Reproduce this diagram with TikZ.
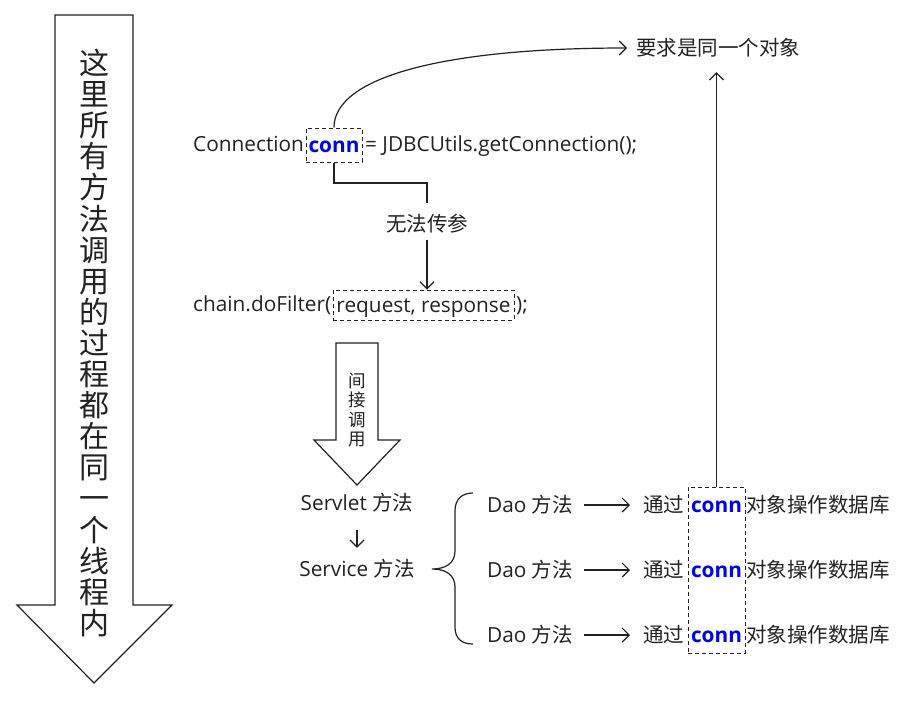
\documentclass[tikz,border=0pt]{standalone}
\usepackage{fontspec}
\setmainfont{Open Sans}
\newfontfamily\cjk{Noto Sans CJK SC}
\newcommand\zh{\cjk\fontsize{20.5}{24}\selectfont}
\usetikzlibrary{arrows.meta}
\definecolor{ink}{HTML}{222222}
\definecolor{connblue}{HTML}{0000FF}
\tikzset{
  txt/.style={inner sep=0pt, font=\fontsize{20.8}{24}\selectfont, text=ink, text height=16pt, text depth=2pt},
  dbox/.style={draw=ink, dash pattern=on 4pt off 3pt, line width=1pt},
  ln/.style={draw=ink, line width=1.2pt},
  arr/.style={ln, -{Straight Barb[length=7pt, width=14pt, line width=1.2pt]}},
  blk/.style={draw=ink, line width=1.2pt, fill=white},
  cb/.style={text=connblue, font=\fontsize{20.8}{24}\selectfont\bfseries},
}
\begin{document}
\begin{tikzpicture}[x=1pt,y=-1pt]
\useasboundingbox (0,0) rectangle (913,702);
% big left arrow
\draw[blk] (55,15) -- (133,15) -- (133,605) -- (172,605) -- (94,683) -- (17,605) -- (55,605) -- cycle;
\node[inner sep=0pt, align=center, text=ink, font=\cjk\fontsize{30}{31.1}\selectfont] (thread) at (94,343)
 {这\\里\\所\\有\\方\\法\\调\\用\\的\\过\\程\\都\\在\\同\\一\\个\\线\\程\\内};
% top line
\node[txt, anchor=west] (c1) at (193,144) {Connection};
\node[dbox, txt, cb, minimum width=56pt, minimum height=34pt] (conn0) at (334,145) {conn};
\node[txt, anchor=west] (c2) at (365,144) {= JDBCUtils.getConnection();};
\node[txt, anchor=west] (req) at (636,48) {\zh 要求是同一个对象};
\node[txt] (wf) at (427,224) {\zh 无法传参};
\node[txt, anchor=west] (cf) at (193,304) {chain.doFilter(};
\node[dbox, txt, minimum width=181pt, minimum height=30pt] (rr) at (423.5,305) {request, response};
\node[txt, anchor=west] (cf2) at (516,304) {);};
\coordinate (bend) at (427,183);
\draw[arr] (conn0.north) .. controls (334,78) and (440,48) .. ([xshift=-9pt]req.west);
\draw[ln, shorten >=12pt] (conn0.south) |- (bend) -- (wf.north);
\draw[arr, shorten <=7pt] (wf.south) -- (wf.south |- rr.north);
% small block arrow
\draw[blk] (336,343) -- (378,343) -- (378,440) -- (400,440) -- (357,485) -- (314,440) -- (336,440) -- cycle;
\node[inner sep=0pt, align=center, text=ink, font=\cjk\fontsize{17.5}{19.3}\selectfont] (jj) at (357,410) {间\\接\\调\\用};
% servlet / service
\node[txt] (sv) at (357,503) {Servlet {\zh 方法}};
\node[txt] (se) at (357,569) {Service {\zh 方法}};
\draw[arr, shorten <=18pt, shorten >=12pt] (sv.south) -- (se.north);
% brace
\draw[ln] (473,493) .. controls (462,493) and (455,499) .. (455,511) -- (455,551)
  .. controls (455,563) and (446,569) .. (432,569)
  .. controls (446,569) and (455,575) .. (455,587) -- (455,627)
  .. controls (455,639) and (462,644) .. (473,644);
% dao rows
\node[dbox, minimum width=57pt, minimum height=166pt] (cbox) at (716.5,570) {};
\foreach \i/\y in {1/505,2/570,3/635}{
  \node[txt, anchor=west] (dao\i) at (487,\y) {Dao {\zh 方法}};
  \node[txt, anchor=west] (tg\i) at (643,\y) {\zh 通过};
  \node[txt, cb] (cn\i) at (716.5,\y) {conn};
  \node[txt, anchor=west] (op\i) at (746,\y) {\zh 对象操作数据库};
  \draw[arr, shorten <=11pt, shorten >=13pt] (dao\i.east) -- (tg\i.west);
}
\draw[arr, shorten >=15pt] (cbox.north) -- (cbox.north |- req.south);
\end{tikzpicture}
\end{document}
